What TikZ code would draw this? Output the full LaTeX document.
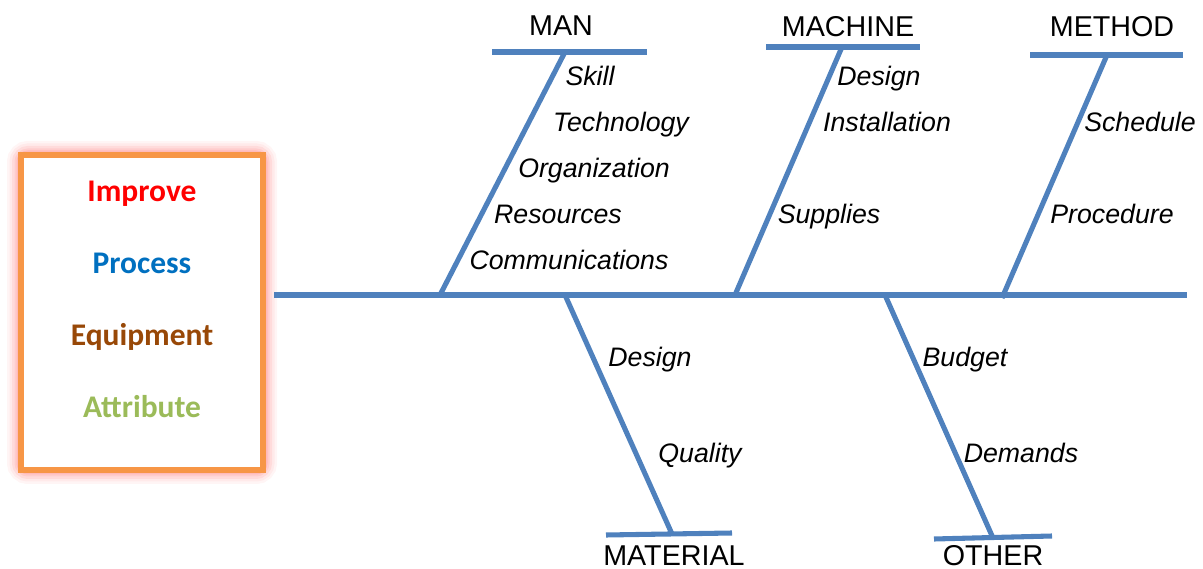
\documentclass[tikz,border=0pt]{standalone}
\usepackage{fontspec}
\setmainfont{Liberation Sans}
\newfontfamily\calibrifont{Carlito}
\usepackage{xcolor}
\definecolor{boneblue}{HTML}{4F81BD}
\definecolor{boxorange}{HTML}{F79646}
\definecolor{improvered}{HTML}{FF0000}
\definecolor{processblue}{HTML}{0070C0}
\definecolor{equipbrown}{HTML}{984807}
\definecolor{attrgreen}{HTML}{9BBB59}

\begin{document}
\begin{tikzpicture}[x=0.025cm,y=-0.025cm,
        bone/.style={boneblue,line width=3.6pt},
        head/.style={inner sep=0pt,font=\fontsize{20.4}{23}\selectfont,text height=14.6pt,text depth=0pt},
        cause/.style={inner sep=0pt,font=\fontsize{19}{22}\selectfont\itshape,text height=13.6pt,text depth=0pt},
        goal/.style={inner sep=0pt,font=\fontsize{22.4}{26}\selectfont\calibrifont\bfseries,text height=14.4pt,text depth=0pt}]
        \useasboundingbox (0,0) rectangle (1203,569);

        % box on the left
        \foreach \w/\o in {28/0.07,23/0.09,18/0.12,13/0.15,9/0.2}
            \draw[red!55,opacity=\o,line width=\w*0.025cm,rounded corners=5] (21,155) rectangle (263,470);
        \draw[boxorange,fill=white,line width=3.6pt] (21,155) rectangle (263,470);

        \node[goal,improvered] (improve) at (142,191) {Improve};
        \node[goal,processblue] (process) at (142,263) {Process};
        \node[goal,equipbrown] (equipment) at (142,335) {Equipment};
        \node[goal,attrgreen] (attribute) at (142,407) {Attribute};

        % spine
        \coordinate (tail) at (274,295);
        \coordinate (nose) at (1187,295);
        \draw[bone] (tail) -- (nose);

        % upper bones
        \coordinate (manL) at (492,52);
        \coordinate (manR) at (647,52);
        \coordinate (manT) at (565,52);
        \coordinate (manB) at (440,295);
        \coordinate (machL) at (766,47);
        \coordinate (machR) at (920,47);
        \coordinate (machT) at (842,47);
        \coordinate (machB) at (735,295);
        \coordinate (methL) at (1030,55);
        \coordinate (methR) at (1183,55);
        \coordinate (methT) at (1107,55);
        \coordinate (methB) at (1002,298);

        % lower bones
        \coordinate (matL) at (606,535);
        \coordinate (matR) at (732,533);
        \coordinate (matT) at (565,295);
        \coordinate (matB) at (672,534);
        \coordinate (othL) at (934,539);
        \coordinate (othR) at (1052,536);
        \coordinate (othT) at (885,295);
        \coordinate (othB) at (993,538);

        \draw[bone] (manL) -- (manR);
        \draw[bone] (manT) -- (manB);
        \draw[bone] (machL) -- (machR);
        \draw[bone] (machT) -- (machB);
        \draw[bone] (methL) -- (methR);
        \draw[bone] (methT) -- (methB);
        \draw[bone] (matL) -- (matR);
        \draw[bone] (matT) -- (matB);
        \draw[bone] (othL) -- (othR);
        \draw[bone] (othT) -- (othB);

        % headings
        \node[head] (man) at (561,25) {MAN};
        \node[head] (machine) at (848,26) {MACHINE};
        \node[head] (method) at (1112,26) {METHOD};
        \node[head] (material) at (674,555) {MATERIAL};
        \node[head] (other) at (993,555) {OTHER};

        % causes
        \node[cause] (skill) at (590,76) {Skill};
        \node[cause] (technology) at (621,122) {Technology};
        \node[cause] (organization) at (594,168) {Organization};
        \node[cause] (resources) at (558,214) {Resources};
        \node[cause] (communications) at (569,260) {Communications};

        \node[cause] (design) at (879,76) {Design};
        \node[cause] (installation) at (887,122) {Installation};
        \node[cause] (supplies) at (829,214) {Supplies};

        \node[cause] (schedule) at (1140,122) {Schedule};
        \node[cause] (procedure) at (1112,214) {Procedure};

        \node[cause] (design2) at (650,357) {Design};
        \node[cause] (quality) at (700,453) {Quality};

        \node[cause] (budget) at (965,357) {Budget};
        \node[cause] (demands) at (1021,453) {Demands};

    \end{tikzpicture}
\end{document}
